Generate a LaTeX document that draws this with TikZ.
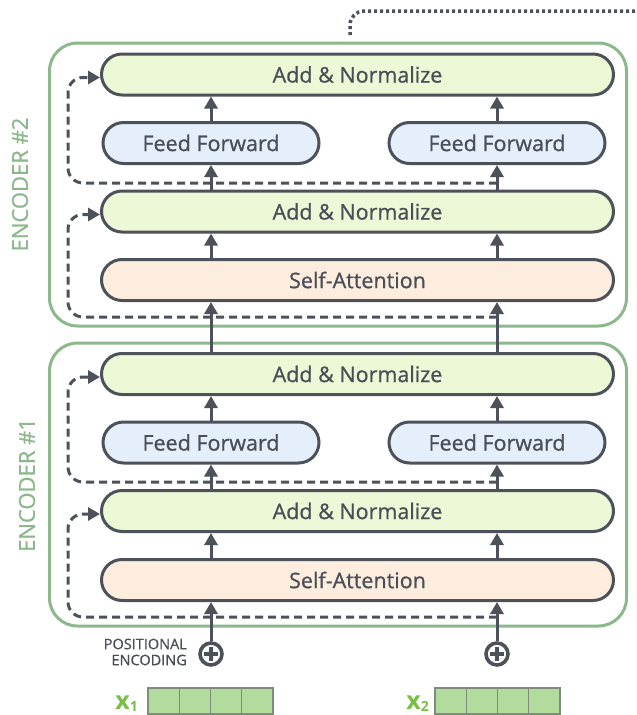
\documentclass[tikz,border=0pt]{standalone}
\usepackage{fontspec}
\setmainfont{Open Sans}
\newfontfamily\osemi{Open Sans}[FakeBold=0.8]
\usetikzlibrary{arrows.meta,calc}
\definecolor{ink}{HTML}{4D525A}
\definecolor{txt}{HTML}{4A4F57}
\definecolor{anfill}{HTML}{ECF8D6}
\definecolor{fffill}{HTML}{E4EFFB}
\definecolor{safill}{HTML}{FCEDDF}
\definecolor{encg}{HTML}{8CB88C}
\definecolor{cellg}{HTML}{B2DC9E}
\definecolor{cellb}{HTML}{7F8C7B}
\definecolor{xg}{HTML}{78C043}
\begin{document}
\begin{tikzpicture}[x=1pt,y=-1pt,
  blk/.style={draw=ink, line width=3pt, rounded corners=20.5pt, minimum height=41pt, inner sep=0pt, text=txt, font=\osemi\fontsize{21.5}{24}\selectfont},
  addnorm/.style={blk, fill=anfill, minimum width=512pt},
  ffbox/.style={blk, fill=fffill, minimum width=216pt},
  sabox/.style={blk, fill=safill, minimum width=512pt},
  encbox/.style={draw=encg, line width=3pt, rounded corners=28pt},
  enclabel/.style={text=encg, rotate=90, inner sep=0pt, font=\osemi\fontsize{22}{24}\selectfont},
  arr/.style={draw=ink, line width=3pt, -{Triangle[length=12pt,width=13pt]}},
  resid/.style={draw=ink, line width=3pt, dash pattern=on 8pt off 5pt, rounded corners=15pt, -{Triangle[length=12pt,width=13pt]}},
  dotline/.style={draw=ink, line width=3.5pt, dash pattern=on 3pt off 3pt, rounded corners=14pt},
  plusnode/.style={draw=ink, line width=3.6pt, circle, minimum size=22pt, inner sep=0pt, fill=white},
  cell/.style={draw=cellb, fill=cellg, line width=1.2pt, minimum width=31.25pt, minimum height=26pt, inner sep=0pt, outer sep=0pt},
  xlab/.style={anchor=base east, text=xg, inner sep=0pt, font=\fontsize{25}{25}\selectfont\bfseries},
  pelabel/.style={anchor=east, align=right, text=txt, inner sep=0pt, font=\osemi\fontsize{14.5}{16}\selectfont}
]
\useasboundingbox (0,0) rectangle (637,715);

% encoder frames
\draw[encbox] (49.5,43) rectangle (626.5,326) coordinate (e2corner);
\draw[encbox] (49.5,343) rectangle (626.5,626) coordinate (e1corner);
\node[enclabel] (lab2) at (20,184.5) {ENCODER \#2};
\node[enclabel] (lab1) at (27,485) {ENCODER \#1};

% column coordinates
\coordinate (colL) at (211,0);
\coordinate (colR) at (497,0);

% encoder 2
\node[addnorm] (an2t) at (357.5,74.5) {Add \& Normalize};
\node[ffbox] (ff2l) at (211,143) {Feed Forward};
\node[ffbox] (ff2r) at (497,143) {Feed Forward};
\node[addnorm] (an2b) at (357.5,211.5) {Add \& Normalize};
\node[sabox] (sa2) at (357.5,280) {Self-Attention};

% encoder 1
\node[addnorm] (an1t) at (357.5,374) {Add \& Normalize};
\node[ffbox] (ff1l) at (211,442.5) {Feed Forward};
\node[ffbox] (ff1r) at (497,442.5) {Feed Forward};
\node[addnorm] (an1b) at (357.5,511) {Add \& Normalize};
\node[sabox] (sa1) at (357.5,580) {Self-Attention};

% positional encoding
\node[plusnode] (pl1) at (211,654) {};
\node[plusnode] (pl2) at (497,654) {};
\foreach \p in {pl1,pl2}{
  \draw[ink, line width=3.2pt] ($(\p)+(-7,0)$) -- ($(\p)+(7,0)$);
  \draw[ink, line width=3.2pt] ($(\p)+(0,-7)$) -- ($(\p)+(0,7)$);
}
\node[pelabel] (pe) at (187,652) {POSITIONAL\\ENCODING};

% inputs
\node[xlab] (x1) at (138,709) {x\raisebox{-2.5pt}{\fontsize{14}{14}\selectfont 1}};
\node[xlab] (x2) at (429,709) {x\raisebox{-2.5pt}{\fontsize{14}{14}\selectfont 2}};
\foreach \i in {0,...,3}{
  \node[cell] (x1c\i) at ({163.625+31.25*\i},701) {};
  \node[cell] (x2c\i) at ({450.625+31.25*\i},701) {};
}

% residual start points
\coordinate (r1lo) at (497,617);
\coordinate (r1up) at (497,482);
\coordinate (r2lo) at (497,317);
\coordinate (r2up) at (497,183);

\draw[resid] (r1lo) -| ($(an1b.west)+(-32,3)$) -- ($(an1b.west)+(0,3)$);
\draw[resid] (r1up) -| ($(an1t.west)+(-32,3)$) -- ($(an1t.west)+(0,3)$);
\draw[resid] (r2lo) -| ($(an2b.west)+(-32,3)$) -- ($(an2b.west)+(0,3)$);
\draw[resid] (r2up) -| ($(an2t.west)+(-32,3)$) -- ($(an2t.west)+(0,3)$);

% main arrows
\foreach \c/\p in {colL/pl1,colR/pl2}{
  \draw[arr] (\p.north) -- (sa1.south -| \c);
  \draw[arr] (sa1.north -| \c) -- (an1b.south -| \c);
  \draw[arr] (an1t.north -| \c) -- (sa2.south -| \c);
  \draw[arr] (sa2.north -| \c) -- (an2b.south -| \c);
}
\draw[arr] (an1b.north -| colL) -- (ff1l.south);
\draw[arr] (an1b.north -| colR) -- (ff1r.south);
\draw[arr] (ff1l.north) -- (an1t.south -| colL);
\draw[arr] (ff1r.north) -- (an1t.south -| colR);
\draw[arr] (an2b.north -| colL) -- (ff2l.south);
\draw[arr] (an2b.north -| colR) -- (ff2r.south);
\draw[arr] (ff2l.north) -- (an2t.south -| colL);
\draw[arr] (ff2r.north) -- (an2t.south -| colR);

% output dotted line
\coordinate (dotstart) at (350,35);
\coordinate (dotend) at (640,11);
\draw[dotline] (dotstart) |- (dotend);
\end{tikzpicture}
\end{document}
